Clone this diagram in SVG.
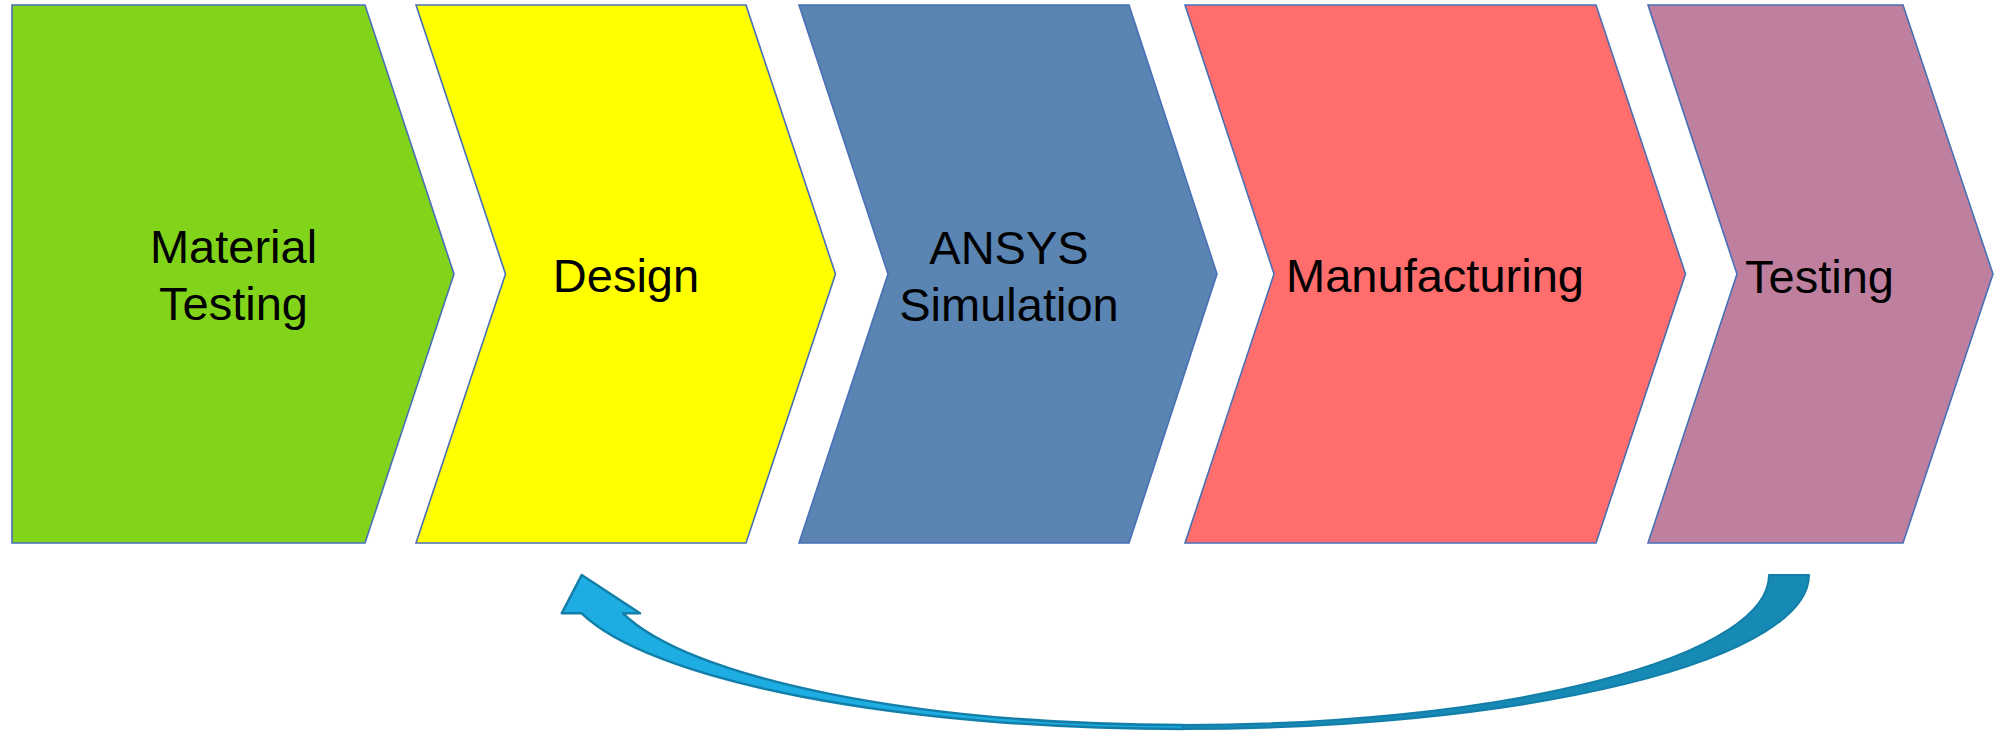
<svg xmlns="http://www.w3.org/2000/svg" width="2000" height="733" viewBox="0 0 2000 733">
  <style>
    .chev { stroke: #4870B6; stroke-width: 1.6; stroke-linejoin: miter; }
    .lbl { font-family: "Liberation Sans", Arial, sans-serif; font-size: 47px; fill: #000000; text-anchor: middle; }
  </style>
  <rect x="0" y="0" width="2000" height="733" fill="#FFFFFF"/>
  <g id="node-material-testing">
    <polygon class="chev" fill="#82D41A" points="12,5 365,5 454,274 365,543 12,543"/>
    <text class="lbl" x="233.5" y="263">Material</text>
    <text class="lbl" x="233.5" y="320">Testing</text>
  </g>
  <g id="node-design">
    <polygon class="chev" fill="#FFFF00" points="416,5 746,5 835.5,274 746,543 416,543 505.5,274"/>
    <text class="lbl" x="626" y="292">Design</text>
  </g>
  <g id="node-ansys">
    <polygon class="chev" fill="#5A84B1" points="799,5 1129,5 1217,274 1129,543 799,543 888,274"/>
    <text class="lbl" x="1009" y="264">ANSYS</text>
    <text class="lbl" x="1009" y="320.5">Simulation</text>
  </g>
  <g id="node-manufacturing">
    <polygon class="chev" fill="#FF6D6D" points="1185,5 1596,5 1685.5,274 1596,543 1185,543 1274,274"/>
    <text class="lbl" x="1435" y="292">Manufacturing</text>
  </g>
  <g id="node-testing">
    <polygon class="chev" fill="#BF809F" points="1648,5 1903,5 1993,274 1903,543 1648,543 1737,274"/>
    <text class="lbl" x="1819.5" y="292.5">Testing</text>
  </g>
  <g id="connectors">
    <path d="M1769,575 L1809,575 A626 154 0 0 1 1183,729 L1183,725 A586 150 0 0 0 1769,575 Z" fill="#168AB5" stroke="#137FA9" stroke-width="2" stroke-linejoin="round"/>
    <path d="M1183,729 A620.5 154 0 0 1 581.7,613.3 L561.7,613.3 L581.7,575 L640,613.3 L623,613.3 A578.9 150 0 0 0 1183,725 Z" fill="#1DADE2" stroke="#137FA8" stroke-width="2.5" stroke-linejoin="round"/>
  </g>
</svg>
